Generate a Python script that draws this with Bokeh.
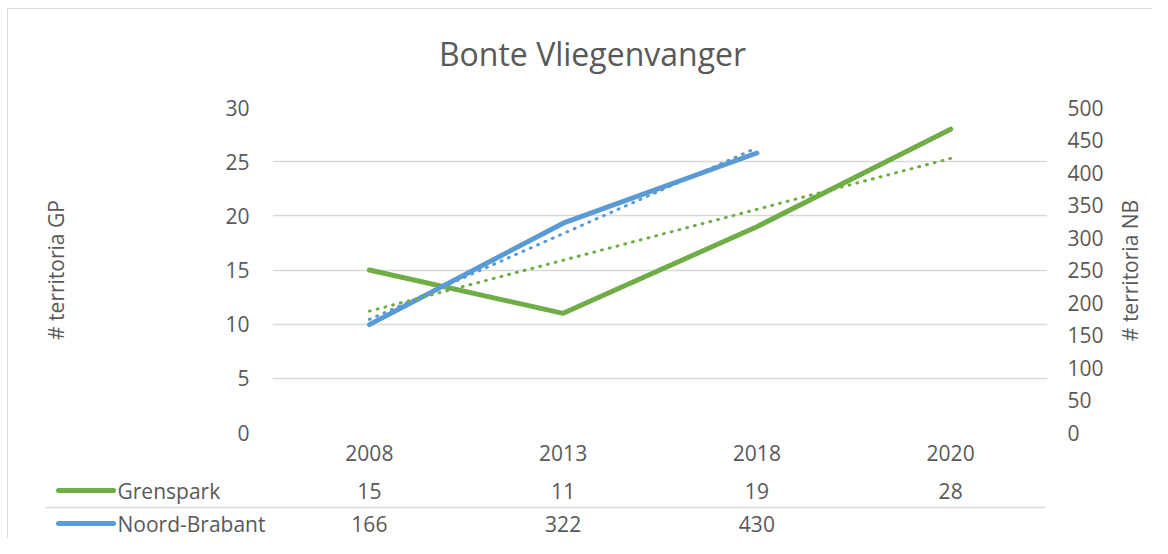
import numpy as np
from bokeh.plotting import figure
from bokeh.layouts import column, row
from bokeh.models import Range1d, LinearAxis, FixedTicker, InlineStyleSheet
from bokeh.core.properties import value
from bokeh.embed import file_html
from bokeh.resources import INLINE

# ---- data ----
chart_title = "Bonte Vliegenvanger"
years = ["2008", "2013", "2018", "2020"]
series_names = ["Grenspark", "Noord-Brabant"]
grenspark = [15, 11, 19, 28]
noord_brabant = [166, 322, 430]
left_ticks = [0, 5, 10, 15, 20, 25, 30]
right_ticks = [0, 50, 100, 150, 200, 250, 300, 350, 400, 450, 500]
left_title = "# territoria GP"
right_title = "# territoria NB"

# ---- style / layout ----
GREEN = "#70AD47"
BLUE = "#5B9BD5"
TXT = "#595959"
GRID = "#D9D9D9"
FONT = "Open Sans"
FS = "21px"

W = 1152
W_MAIN = 1110                 # main chart width; the rest holds the right title
H_TITLE = 92                  # title strip
H_MAIN = 378                  # main chart
H_BOT = 68                    # data table
FL, FR = 272, 1047            # frame left/right (px)
FT_ABS, FB_ABS = 107, 432     # frame top/bottom in page px
FT = FT_ABS - H_TITLE
FB = FB_ABS - H_TITLE
NCAT = len(years)
CATW = (FR - FL) / NCAT
NB_MAX = 500


def cx(px):
    """pixel x -> category coordinate (shared by main chart and table)"""
    return 0.5 + (px - FL) / CATW


def strip(width, height, xr):
    f = figure(width=width, height=height, output_backend="svg", toolbar_location=None,
               x_range=xr, y_range=Range1d(height, 0),
               x_axis_location=None, y_axis_location=None,
               min_border=0, min_border_left=0, min_border_right=0,
               min_border_top=0, min_border_bottom=0)
    f.outline_line_color = None
    f.frame_align = False
    f.xgrid.visible = False
    f.ygrid.visible = False
    return f


x_idx = list(range(1, NCAT + 1))

# ================= title strip =================
ts = strip(W, H_TITLE, Range1d(0, W))
ts.text([592], [53], text=[chart_title], text_align="center", text_baseline="middle",
        text_font=value(FONT), text_font_size="32px", text_color=TXT)

# ================= main chart =================
p = figure(width=W_MAIN, height=H_MAIN, output_backend="svg", toolbar_location=None,
           x_range=Range1d(0.5, NCAT + 0.5), y_range=Range1d(0, 30),
           min_border_left=FL, min_border_right=W_MAIN - FR,
           min_border_top=FT, min_border_bottom=H_MAIN - FB)
p.outline_line_color = None
p.frame_align = False
p.extra_y_ranges = {"nb": Range1d(0, NB_MAX)}

xa = p.xaxis[0]
xa.ticker = FixedTicker(ticks=x_idx)
xa.major_label_overrides = {i: y for i, y in zip(x_idx, years)}
xa.major_label_standoff = 6

ya = p.yaxis[0]
ya.ticker = FixedTicker(ticks=left_ticks)
ya.major_label_standoff = 17
ya.axis_label = left_title
ya.axis_label_standoff = 152

ra = LinearAxis(y_range_name="nb", ticker=FixedTicker(ticks=right_ticks))
ra.major_label_standoff = 14
ra.major_label_text_align = "left"
p.add_layout(ra, "right")

for ax in (xa, ya, ra):
    ax.axis_line_color = None
    ax.major_tick_line_color = None
    ax.minor_tick_line_color = None
    ax.major_label_text_font = FONT
    ax.major_label_text_font_size = FS
    ax.major_label_text_color = TXT
    ax.axis_label_text_font = FONT
    ax.axis_label_text_font_size = FS
    ax.axis_label_text_font_style = "normal"
    ax.axis_label_text_color = TXT

p.xgrid.visible = False
p.ygrid.ticker = FixedTicker(ticks=left_ticks)
p.ygrid.grid_line_color = GRID
p.ygrid.grid_line_width = 1.5

p.line(x_idx[:len(grenspark)], grenspark, line_color=GREEN, line_width=5,
       line_cap="round", line_join="round")
p.line(x_idx[:len(noord_brabant)], noord_brabant, y_range_name="nb",
       line_color=BLUE, line_width=5, line_cap="round", line_join="round")

# linear trendlines (least squares on category index, as the spreadsheet does)
xg = np.array(x_idx[:len(grenspark)], dtype=float)
cg = np.polyfit(xg, grenspark, 1)
p.line(xg, np.polyval(cg, xg), line_color=GREEN, line_width=3, line_dash="1 7",
       line_cap="round")
xn = np.array(x_idx[:len(noord_brabant)], dtype=float)
cn = np.polyfit(xn, noord_brabant, 1)
p.line(xn, np.polyval(cn, xn), y_range_name="nb", line_color=BLUE, line_width=3,
       line_dash="1 7", line_cap="round")

# ================= right axis title strip =================
rw = W - W_MAIN
r = strip(rw, H_MAIN, Range1d(0, rw))
r.text([1129 - W_MAIN], [270 - H_TITLE], text=[right_title], angle=np.pi / 2,
       text_align="center", text_baseline="middle",
       text_font=value(FONT), text_font_size=FS, text_color=TXT)

# ================= data table =================
t = strip(W, H_BOT, Range1d(cx(0), cx(W)))

row_y = [20, 53]
colors = [GREEN, BLUE]
for name, vals, ry, col in zip(series_names, [grenspark, noord_brabant], row_y, colors):
    t.line([cx(58), cx(113)], [ry, ry], line_color=col, line_width=5, line_cap="round")
    t.text([cx(117)], [ry], text=[name], text_align="left", text_baseline="middle",
           text_font=value(FONT), text_font_size=FS, text_color=TXT)
    t.text(x_idx[:len(vals)], [ry] * len(vals), text=[str(v) for v in vals],
           text_align="center", text_baseline="middle",
           text_font=value(FONT), text_font_size=FS, text_color=TXT)

t.line([cx(45), cx(1045)], [37, 37], line_color=GRID, line_width=1.5)

css = """
:host { position: relative; }
:host::after {
  content: ""; position: absolute; left: 7px; top: 8px; right: 0; bottom: 0;
  border-top: 1px solid #D9D9D9; border-left: 1px solid #D9D9D9;
  pointer-events: none;
}
"""
layout = column(ts, row(p, r, spacing=0), t, spacing=0,
                stylesheets=[InlineStyleSheet(css=css)])

open("out.html", "w").write(file_html(layout, INLINE))
